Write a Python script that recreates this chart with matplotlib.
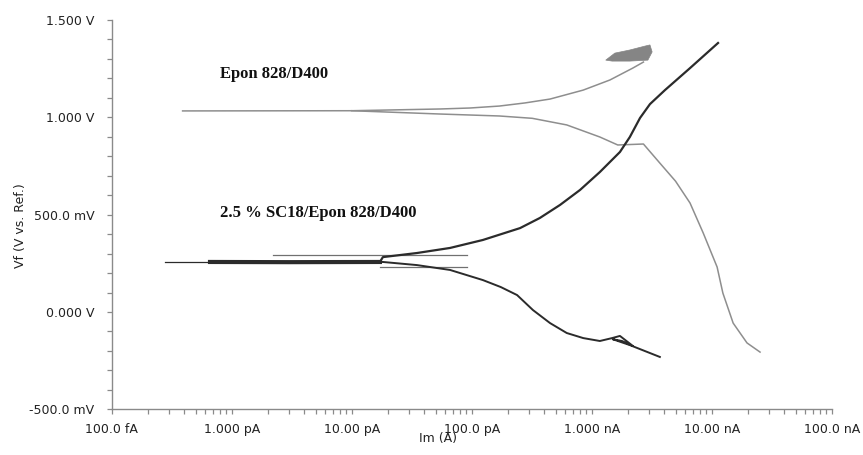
import matplotlib
matplotlib.use('Agg')
import matplotlib.pyplot as plt
from matplotlib.ticker import FixedLocator, LogLocator, NullFormatter, MultipleLocator

# Epon 828/D400 (light grey curve)
epon_an_i = [3.9e-13, 1.0e-11, 5.5e-11, 9.7e-11, 1.7e-10, 2.78e-10, 4.5e-10, 8.5e-10,
             1.42e-9, 2.2e-9, 2.7e-9]
epon_an_v = [1.033, 1.034, 1.043, 1.048, 1.058, 1.074, 1.094, 1.140,
             1.192, 1.253, 1.284]
epon_cat_i = [1.0e-11, 5.5e-11, 1.7e-10, 3.2e-10, 6.2e-10, 1.17e-9, 1.65e-9, 2.7e-9,
              3.7e-9, 5.0e-9, 6.6e-9, 8.5e-9, 1.11e-8, 1.24e-8, 1.51e-8, 1.97e-8, 2.53e-8]
epon_cat_v = [1.034, 1.017, 1.007, 0.995, 0.961, 0.899, 0.858, 0.863,
              0.765, 0.672, 0.560, 0.406, 0.231, 0.097, -0.057, -0.159, -0.206]
# noisy blob at the top of the anodic branch
blob_i = [1.31e-9, 1.56e-9, 2.08e-9, 2.78e-9, 3.06e-9, 3.19e-9, 2.94e-9, 2.08e-9, 1.48e-9]
blob_v = [1.294, 1.330, 1.346, 1.366, 1.372, 1.336, 1.294, 1.289, 1.289]

# 2.5 % SC18/Epon 828/D400 (dark curve)
sc_flat_i = [2.8e-13, 6.6e-13, 3.0e-12, 1.72e-11]
sc_flat_v = [0.257, 0.257, 0.256, 0.257]
sc_an_i = [1.72e-11, 1.82e-11, 3.5e-11, 6.6e-11, 1.24e-10, 2.53e-10, 3.7e-10, 5.45e-10,
           8.0e-10, 1.17e-9, 1.72e-9, 2.08e-9, 2.53e-9, 3.06e-9, 4.08e-9, 6.6e-9, 1.13e-8]
sc_an_v = [0.257, 0.282, 0.303, 0.329, 0.370, 0.431, 0.483, 0.550,
           0.627, 0.719, 0.822, 0.899, 0.997, 1.068, 1.140, 1.253, 1.382]
sc_cat_i = [1.72e-11, 1.82e-11, 3.5e-11, 6.6e-11, 1.24e-10, 1.75e-10, 2.39e-10, 3.24e-10,
            4.5e-10, 6.2e-10, 8.5e-10, 1.17e-9, 1.48e-9, 1.72e-9, 2.21e-9, 1.79e-9,
            1.5e-9, 2.08e-9, 3.7e-9]
sc_cat_v = [0.257, 0.257, 0.241, 0.216, 0.164, 0.128, 0.087, 0.010,
            -0.057, -0.108, -0.134, -0.149, -0.134, -0.123, -0.175, -0.149,
            -0.140, -0.170, -0.231]
sc_upper_i = [2.2e-12, 9.1e-11]
sc_upper_v = [0.293, 0.293]
sc_lower_i = [1.72e-11, 9.1e-11]
sc_lower_v = [0.231, 0.231]

x_ticks = [1e-13, 1e-12, 1e-11, 1e-10, 1e-9, 1e-8, 1e-7]
x_labels = ['100.0 fA', '1.000 pA', '10.00 pA', '100.0 pA', '1.000 nA', '10.00 nA', '100.0 nA']
y_ticks = [-0.5, 0.0, 0.5, 1.0, 1.5]
y_labels = ['-500.0 mV', '0.000 V', '500.0 mV', '1.000 V', '1.500 V']

plt.rcParams['font.family'] = ['DejaVu Sans']
fig = plt.figure(figsize=(8.63, 4.55), dpi=100)
ax = fig.add_axes([0.1294, 0.1004, 0.8343, 0.8556])

grey = '#8e8e8e'
dark = '#2b2b2b'
ax.plot(epon_an_i, epon_an_v, color=grey, lw=1.1)
ax.plot(epon_cat_i, epon_cat_v, color=grey, lw=1.1)
ax.fill(blob_i, blob_v, color='#858585', lw=0.5)
ax.plot(sc_flat_i[:2], sc_flat_v[:2], color=dark, lw=0.9)
ax.plot(sc_flat_i[1:], sc_flat_v[1:], color=dark, lw=3.0)
ax.plot(sc_upper_i, sc_upper_v, color='#707070', lw=0.9)
ax.plot(sc_lower_i, sc_lower_v, color='#707070', lw=0.9)
ax.plot(sc_an_i, sc_an_v, color=dark, lw=1.6)
ax.plot(sc_cat_i, sc_cat_v, color=dark, lw=1.4)

ax.set_xscale('log')
ax.set_xlim(1e-13, 1e-7)
ax.set_ylim(-0.5, 1.5)
ax.xaxis.set_major_locator(FixedLocator(x_ticks))
ax.set_xticklabels(x_labels)
ax.xaxis.set_minor_locator(LogLocator(base=10, subs=range(2, 10)))
ax.xaxis.set_minor_formatter(NullFormatter())
ax.set_yticks(y_ticks)
ax.set_yticklabels(y_labels)
ax.yaxis.set_minor_locator(MultipleLocator(0.1))

for s in ['top', 'right']:
    ax.spines[s].set_visible(False)
for s in ['left', 'bottom']:
    ax.spines[s].set_color('#8a8a8a')
    ax.spines[s].set_linewidth(1.0)
ax.tick_params(which='both', direction='out', length=3.5, width=0.9, color='#8a8a8a',
               labelsize=9, labelcolor='#222222')
ax.tick_params(axis='x', which='major', pad=6)
ax.tick_params(axis='y', which='major', pad=9)

ax.set_xlabel('Im (A)', fontsize=9, color='#222222')
ax.set_ylabel('Vf (V vs. Ref.)', fontsize=9, color='#222222')
ax.xaxis.set_label_coords(0.453, -0.058)
ax.yaxis.set_label_coords(-0.118, 0.471)

ax.text(8e-13, 1.223, 'Epon 828/D400', family='Liberation Serif', weight='bold',
        fontsize=12, va='center', ha='left', color='#111111')
ax.text(8e-13, 0.508, '2.5 % SC18/Epon 828/D400', family='Liberation Serif', weight='bold',
        fontsize=12, va='center', ha='left', color='#111111')

fig.savefig('out.png', dpi=100)
